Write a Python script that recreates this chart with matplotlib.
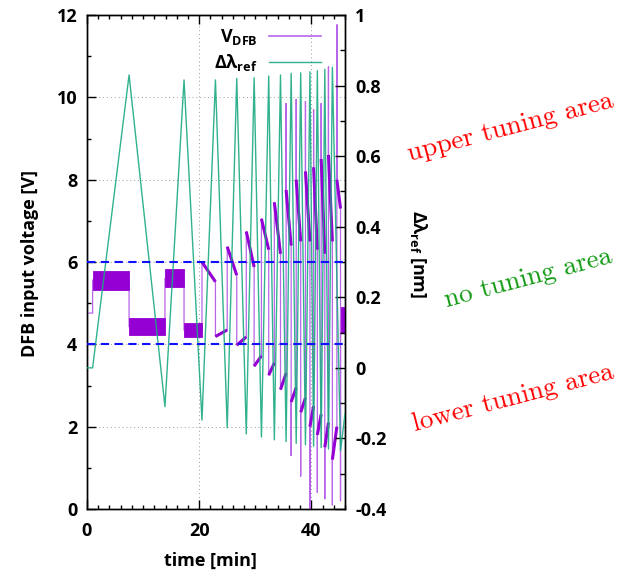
import numpy as np
import matplotlib
matplotlib.use('Agg')
import matplotlib.pyplot as plt
from matplotlib.patches import Rectangle
from matplotlib.ticker import MultipleLocator, FixedLocator, FixedFormatter

# ---------------- data ----------------
# reference wavelength deviation (right axis), turning points of the trace
green_t = [0.0, 1.0, 7.5, 13.9, 17.3, 20.5, 22.9, 25.0, 26.7, 28.4, 29.8, 31.1,
           32.4, 33.4, 34.5, 35.5, 36.4, 37.3, 38.1, 38.95, 39.75, 40.4, 41.07,
           41.75, 42.4, 43.05, 43.75, 45.2, 46.0]
green_v = [0.0, 0.0, 0.83, -0.11, 0.816, -0.148, 0.816, -0.17, 0.82, -0.187,
           0.822, -0.196, 0.827, -0.204, 0.83, -0.209, 0.835, -0.214, 0.836,
           -0.218, 0.839, -0.222, 0.842, -0.226, 0.846, -0.23, 0.852, -0.235, -0.13]

# DFB input voltage (left axis): piecewise segments
seg_t0 = [0.0, 1.0, 7.5, 13.9, 17.3, 20.5, 22.9, 25.0, 26.7, 28.4, 29.8, 31.1,
          32.4, 33.4, 34.5, 35.5, 36.4, 37.3, 38.1, 38.95, 39.75, 40.4, 41.07,
          41.75, 42.4, 43.05, 43.75, 44.55, 45.2, 45.35]
seg_t1 = [1.0, 7.5, 13.9, 17.3, 20.5, 22.9, 25.0, 26.7, 28.4, 29.8, 31.1, 32.4,
          33.4, 34.5, 35.5, 36.4, 37.3, 38.1, 38.95, 39.75, 40.4, 41.07, 41.75,
          42.4, 43.05, 43.75, 44.55, 45.2, 45.35, 46.0]
seg_v0 = [4.76, 5.56, 4.43, 5.6, 4.35, 6.0, 4.19, 6.37, 3.98, 6.74, 3.47, 7.05,
          3.25, 7.45, 2.9, 7.75, 2.6, 8.0, 2.35, 8.2, 2.0, 8.3, 1.8, 8.5, 1.5,
          8.6, 1.2, 8.0, 4.6, 4.6]
seg_v1 = [4.76, 5.56, 4.43, 5.6, 4.35, 5.52, 4.35, 5.68, 4.18, 5.88, 3.72, 6.3,
          3.55, 6.2, 3.3, 6.4, 2.95, 6.5, 2.7, 6.5, 2.5, 6.3, 2.3, 6.2, 2.1,
          6.5, 2.0, 7.3, 4.6, 4.6]
nan = float('nan')
seg_spike = [nan] * 15 + [9.85, 1.3, 9.95, 0.8, 9.9, 0.0, 9.7, 0.4, 9.85, 0.25,
                          10.74, 0.1, 11.76, 0.2, nan]

# noisy plateaus of the voltage trace
band_t0 = [1.0, 7.5, 13.9, 17.3, 45.35]
band_t1 = [7.5, 13.9, 17.3, 20.5, 46.0]
band_lo = [5.32, 4.23, 5.39, 4.18, 4.27]
band_hi = [5.78, 4.64, 5.83, 4.52, 4.9]

limit_lines = [4.0, 6.0]

x_ticks = [0, 20, 40]
y_ticks = [0, 2, 4, 6, 8, 10, 12]
y2_ticks = [-0.4, -0.2, 0.0, 0.2, 0.4, 0.6, 0.8, 1.0]
y2_labels = ['-0.4', '-0.2', '0', '0.2', '0.4', '0.6', '0.8', '1']

# ---------------- style ----------------
plt.rcParams['font.family'] = ['Open Sans', 'DejaVu Sans']
plt.rcParams['font.weight'] = 'bold'
plt.rcParams['axes.labelweight'] = 'bold'
plt.rcParams['axes.unicode_minus'] = False
plt.rcParams['mathtext.fontset'] = 'custom'
plt.rcParams['mathtext.rm'] = 'Open Sans:bold'
plt.rcParams['mathtext.it'] = 'Open Sans:bold'
plt.rcParams['mathtext.bf'] = 'Open Sans:bold'
plt.rcParams['mathtext.sf'] = 'Open Sans:bold'

C_V = '#9400d3'
C_V_LIGHT = '#b865e8'
C_L = '#1aa982'

fig = plt.figure(figsize=(6.31, 5.72), dpi=100)
ax = fig.add_axes([87 / 631, 1 - 509 / 572, 258 / 631, 494 / 572])
ax2 = ax.twinx()

# voltage polyline (plateaus are drawn as filled noise bands instead)
pt, pv = [], []
for t0, t1, v0, v1, sp in zip(seg_t0, seg_t1, seg_v0, seg_v1, seg_spike):
    if not np.isnan(sp):
        pt.append(t0); pv.append(sp)
    if t0 in band_t0:
        pt += [t0, nan, t1]
        pv += [v0, nan, v1]
    else:
        pt += [t0, t1]
        pv += [v0, v1]
ax.plot(pt, pv, color=C_V_LIGHT, lw=0.9, zorder=3)
# thick (noisy) slopes
for i, (t0, t1, v0, v1) in enumerate(zip(seg_t0, seg_t1, seg_v0, seg_v1)):
    if 5 <= i < len(seg_t0) - 2:
        ax.plot([t0, t1], [v0, v1], color=C_V, lw=2.2, zorder=3.2,
                solid_capstyle='butt')
for t0, t1, lo, hi in zip(band_t0, band_t1, band_lo, band_hi):
    ax.add_patch(Rectangle((t0, lo), t1 - t0, hi - lo, facecolor=C_V,
                           edgecolor=C_V, lw=0.6, zorder=3.5))
# legend proxy
v_handle, = ax.plot([], [], color=C_V_LIGHT, lw=1.2, label=r'$V_{DFB}$')

# wavelength trace
ax2.plot(green_t, green_v, color=C_L, lw=1.0, alpha=0.9, zorder=4,
         label=r'$Δλ_{ref}$')

# limit lines
for yl in limit_lines:
    ax2.axhline((yl / 12.0) * 1.4 - 0.4, color='#1010ff', lw=1.5,
                dashes=(4, 2.6), zorder=6)

ax.set_xlim(0, 46)
ax.set_ylim(0, 12)
ax2.set_ylim(-0.4, 1.0)
ax.set_zorder(0)
ax2.set_zorder(1)
ax2.patch.set_visible(False)

ax.xaxis.set_major_locator(FixedLocator(x_ticks))
ax.xaxis.set_minor_locator(MultipleLocator(2))
ax.yaxis.set_major_locator(FixedLocator(y_ticks))
ax.yaxis.set_minor_locator(MultipleLocator(1))
ax2.yaxis.set_major_locator(FixedLocator(y2_ticks))
ax2.yaxis.set_major_formatter(FixedFormatter(y2_labels))
ax2.yaxis.set_minor_locator(MultipleLocator(0.1))

ax.grid(True, which='major', linestyle=(0, (1, 3)), color='#9a9a9a', lw=0.7)

ax.tick_params(which='both', direction='in', top=True, right=False,
               labelsize=13, width=1)
ax.tick_params(which='major', length=6.5)
ax.tick_params(which='minor', length=3.2)
ax.tick_params(axis='y', pad=7)
ax.tick_params(axis='x', pad=9)
ax2.tick_params(which='both', direction='in', right=True, left=False,
                labelsize=13, width=1, pad=7.5)
ax2.tick_params(which='major', length=7)
ax2.tick_params(which='minor', length=3.5)

for a in (ax, ax2):
    for s in a.spines.values():
        s.set_linewidth(1.0)

ax.set_xlabel('time [min]', fontsize=13, fontweight='bold')
ax.xaxis.set_label_coords(0.48, -0.087)
ax.set_ylabel('DFB input voltage [V]', fontsize=13, fontweight='bold')
ax.yaxis.set_label_coords(-0.186, 0.497)
ax2.set_ylabel(r'$Δλ_{ref}$ [nm]', fontsize=13, fontweight='bold',
               rotation=-90, va='bottom')
ax2.yaxis.set_label_coords(1.243, 0.515)

h2, l2 = ax2.get_legend_handles_labels()
leg = ax2.legend([v_handle] + h2, [r'$V_{DFB}$'] + l2, loc='upper right',
                 bbox_to_anchor=(0.907, 0.975),
                 frameon=False, markerfirst=False, fontsize=13, handlelength=2.9,
                 handletextpad=0.6, borderaxespad=0, borderpad=0, labelspacing=0.25)

fig.text(510 / 631, 1 - 127 / 572, 'upper tuning area', rotation=14.8, ha='center',
         va='center', color='#ff0000', family='cmr10', fontsize=19.5, weight='normal')
fig.text(528 / 631, 1 - 278 / 572, 'no tuning area', rotation=15.0, ha='center',
         va='center', color='#119911', family='cmr10', fontsize=19.5, weight='normal')
fig.text(513 / 631, 1 - 398 / 572, 'lower tuning area', rotation=14.8, ha='center',
         va='center', color='#ff0000', family='cmr10', fontsize=19.5, weight='normal')

fig.savefig('out.png', dpi=100)
